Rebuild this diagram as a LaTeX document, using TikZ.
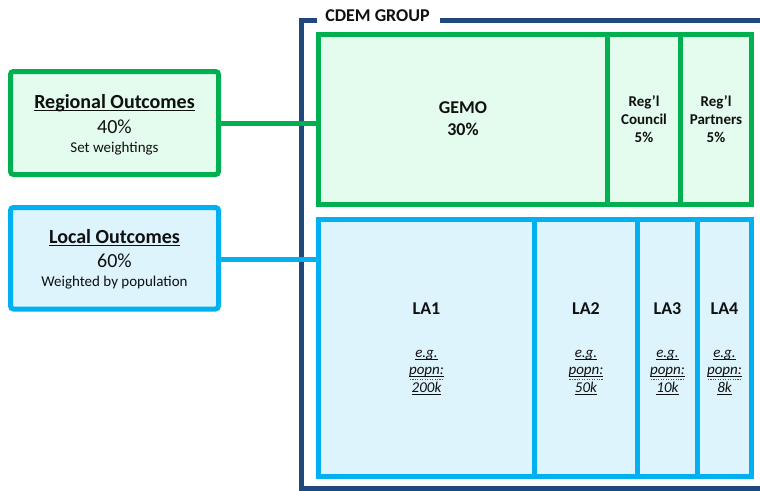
\documentclass[tikz,border=0pt]{standalone}
\usepackage{fontspec}
\setmainfont{Carlito}

\definecolor{navy}{HTML}{1F497D}
\definecolor{ggreen}{HTML}{00B050}
\definecolor{gfill}{HTML}{E3FCEE}
\definecolor{bblue}{HTML}{00B0F0}
\definecolor{bfill}{HTML}{DDF4FD}
\definecolor{ink}{HTML}{101010}

% underline set just below the baseline
\newcommand\uln[1]{\setbox0\hbox{#1}\rlap{\rule[-0.17em]{\wd0}{0.065em}}\box0}
% underline with a dotted red spelling mark under it
\newcommand\ulsq[1]{\setbox0\hbox{#1}\rlap{\rule[-0.17em]{\wd0}{0.065em}}%
  \rlap{\color{red}\raisebox{-0.36em}{\hbox to \wd0{\xleaders\hbox to 0.16em{\hss\rule{0.09em}{0.09em}\hss}\hfill}}}\box0}

\tikzset{
  frameline/.style={draw=navy, line width=5pt},
  gbox/.style={rectangle, draw=ggreen, fill=gfill, line width=5pt, inner sep=0pt},
  bbox/.style={rectangle, draw=bblue, fill=bfill, line width=5pt, inner sep=0pt},
  glink/.style={draw=ggreen, line width=5pt},
  blink/.style={draw=bblue, line width=5pt},
  txt/.style={anchor=base, inner sep=0pt, text=ink},
  big/.style={font=\fontsize{20}{24}\selectfont},
  bigb/.style={font=\fontsize{20}{24}\selectfont\bfseries},
  mid/.style={font=\fontsize{18}{22}\selectfont\bfseries},
  small/.style={font=\fontsize{15}{18}\selectfont},
  smallb/.style={font=\fontsize{15}{18}\selectfont\bfseries},
  smalli/.style={font=\fontsize{15}{18}\selectfont\itshape},
}

\begin{document}
\begin{tikzpicture}[x=1pt, y=-1pt]
\useasboundingbox (0,0) rectangle (760,490);

% CDEM group frame
\draw[frameline] (317,20) -- (301.5,20) -- (301.5,488.5) -- (770,488.5);
\draw[frameline] (440,20) -- (770,20);
\node[txt, mid] (cdem) at (377.5,21.5) {CDEM GROUP};

% outcome boxes on the left
\node[gbox, rounded corners=3pt, minimum width=208pt, minimum height=103pt] (reg) at (114.5,123) {};
\node[bbox, rounded corners=3pt, minimum width=208pt, minimum height=101.5pt] (loc) at (114.5,258.25) {};

% regional row
\node[gbox, minimum width=289pt, minimum height=170pt] (gemo) at (463,119.5) {};
\node[gbox, minimum width=73pt, minimum height=170pt] (council) at (644,119.5) {};
\node[gbox, minimum width=71pt, minimum height=170pt] (partners) at (716,119.5) {};

% local authority row
\node[bbox, minimum width=216pt, minimum height=256.5pt] (la1) at (426.5,347.75) {};
\node[bbox, minimum width=103pt, minimum height=256.5pt] (la2) at (586,347.75) {};
\node[bbox, minimum width=60pt, minimum height=256.5pt] (la3) at (667.5,347.75) {};
\node[bbox, minimum width=54pt, minimum height=256.5pt] (la4) at (724.5,347.75) {};

% connectors
\draw[glink] (reg.east) -- (reg.east -| gemo.west);
\draw[blink] ([yshift=-1.25pt]loc.east) -- ([yshift=-1.25pt]loc.east -| la1.west);

% left box texts
\node[txt, bigb] (regt) at (114.5,108) {\uln{Regional Outcomes}};
\node[txt, big] (regp) at (114.5,133) {40\%};
\node[txt, small] (regs) at (114.5,152) {Set weightings};
\node[txt, bigb] (loct) at (114.5,243) {\uln{Local Outcomes}};
\node[txt, big] (locp) at (114.5,267) {60\%};
\node[txt, small] (locs) at (114.5,286) {Weighted by population};

% regional row texts
\node[txt, mid] (gemot) at (463,113.5) {GEMO};
\node[txt, mid] (gemop) at (463,135.5) {30\%};
\node[txt, smallb] (cou1) at (644,106) {Reg’l};
\node[txt, smallb] (cou2) at (644,124) {Council};
\node[txt, smallb] (cou3) at (644,142) {5\%};
\node[txt, smallb] (par1) at (716,106) {Reg’l};
\node[txt, smallb] (par2) at (716,124) {Partners};
\node[txt, smallb] (par3) at (716,142) {5\%};

% local authority texts
\foreach \n/\x/\p in {la1/426.5/200k, la2/586/50k, la3/667.5/10k, la4/724.5/8k}{
  \node[txt, mid] (\n-name) at (\x,314) {\MakeUppercase{\n}};
  \node[txt, smalli] (\n-eg) at (\x,357) {\uln{e.g.}};
  \node[txt, smalli] (\n-pop) at (\x,374.5) {\ulsq{popn:}};
  \node[txt, smalli] (\n-num) at (\x,392) {\uln{\p}};
}
\end{tikzpicture}
\end{document}
